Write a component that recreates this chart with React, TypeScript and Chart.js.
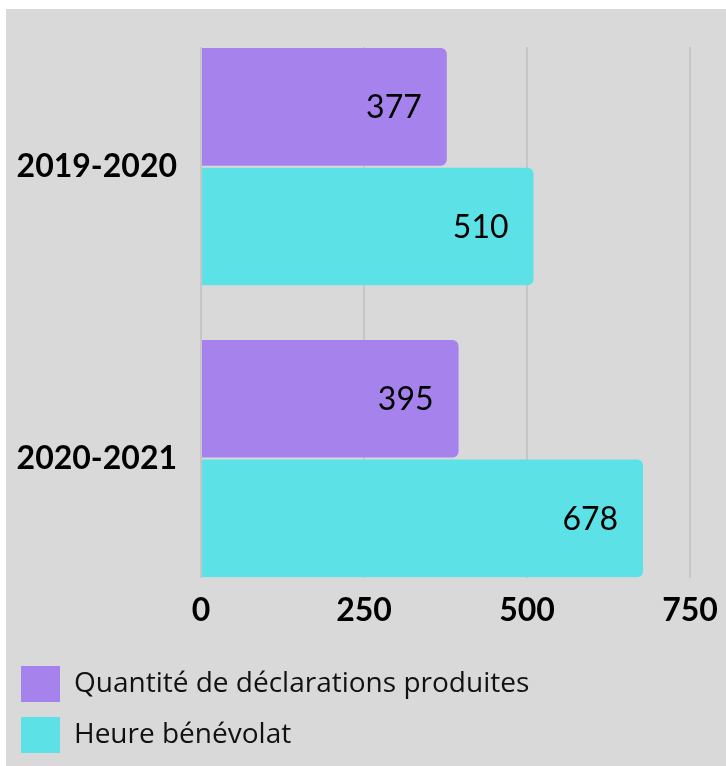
import React, { useEffect, useRef } from "react";
import { Chart, registerables } from "chart.js";

Chart.register(...registerables);

const categories = ["2019-2020", "2020-2021"];
const seriesNames = ["Quantité de déclarations produites", "Heure bénévolat"];
const declarations = [377, 395];
const heures = [510, 678];
const xTicks = [0, 250, 500, 750];

const PURPLE = "#a682ec";
const CYAN = "#5ce1e6";
const BG = "#d9d9d9";
const FONT = "Lato, 'DejaVu Sans', sans-serif";

const valueLabels = {
  id: "valueLabels",
  afterDatasetsDraw(chart: any) {
    const ctx = chart.ctx;
    ctx.save();
    ctx.font = `400 32px ${FONT}`;
    ctx.fillStyle = "#000";
    ctx.textAlign = "right";
    ctx.textBaseline = "middle";
    chart.data.datasets.forEach((ds: any, di: number) => {
      const meta = chart.getDatasetMeta(di);
      meta.data.forEach((bar: any, i: number) => {
        const v = ds.data[i].x;
        ctx.fillText(String(v), bar.x - 25, bar.y + 1);
      });
    });
    ctx.restore();
  },
};

export default function App() {
  const ref = useRef<HTMLCanvasElement | null>(null);
  useEffect(() => {
    if (!ref.current) return;
    const chart = new Chart(ref.current, {
      type: "bar",
      data: {
        datasets: [
          {
            label: seriesNames[0],
            data: declarations.map((v, i) => ({ x: v, y: i })),
            backgroundColor: PURPLE,
            borderRadius: 6,
            borderSkipped: "start",
          },
          {
            label: seriesNames[1],
            data: heures.map((v, i) => ({ x: v, y: i })),
            backgroundColor: CYAN,
            borderRadius: 6,
            borderSkipped: "start",
          },
        ],
      },
      options: {
        indexAxis: "y",
        animation: false,
        responsive: true,
        maintainAspectRatio: false,
        categoryPercentage: 0.82,
        barPercentage: 0.983,
        layout: { padding: { top: 38, right: 36, left: 0, bottom: 3 } },
        scales: {
          x: {
            type: "linear",
            min: 0,
            max: 750,
            afterBuildTicks: (s: any) => {
              s.ticks = xTicks.map((v) => ({ value: v }));
            },
            afterFit: (s: any) => {
              s.height += 7;
              s.paddingLeft = 0;
              s.paddingRight = 0;
            },
            grid: { color: "#c6c6c6", lineWidth: 2, drawTicks: false },
            border: { display: false },
            ticks: {
              padding: 14,
              color: "#000",
              font: { family: FONT, size: 32, weight: "bold" },
              maxRotation: 0,
            },
          },
          y: {
            type: "linear",
            reverse: true,
            offset: false,
            bounds: "data",
            min: -0.41,
            max: 1.408,
            afterBuildTicks: (s: any) => {
              s.ticks = categories.map((_, i) => ({ value: i }));
            },
            afterFit: (s: any) => {
              s.width = 195;
              s.paddingTop = 0;
              s.paddingBottom = 0;
            },
            grid: { display: false, drawTicks: false, offset: false },
            border: { display: false },
            ticks: {
              padding: 24,
              color: "#000",
              font: { family: FONT, size: 32, weight: "bold" },
              callback: (v: any) => categories[v] ?? "",
            },
          },
        },
        plugins: {
          legend: {
            position: "bottom",
            align: "start",
            labels: {
              boxWidth: 39,
              boxHeight: 36,
              padding: 15,
              color: "#111",
              font: { family: "'Open Sans', sans-serif", size: 28 },
            },
          },
          tooltip: { enabled: false },
        },
      },
      plugins: [valueLabels],
    } as any);
    return () => chart.destroy();
  }, []);
  return (
    <div
      style={{
        position: "fixed",
        left: 6,
        top: 9,
        width: 720,
        height: 757,
        background: BG,
      }}
    >
      <canvas ref={ref} />
    </div>
  );
}
